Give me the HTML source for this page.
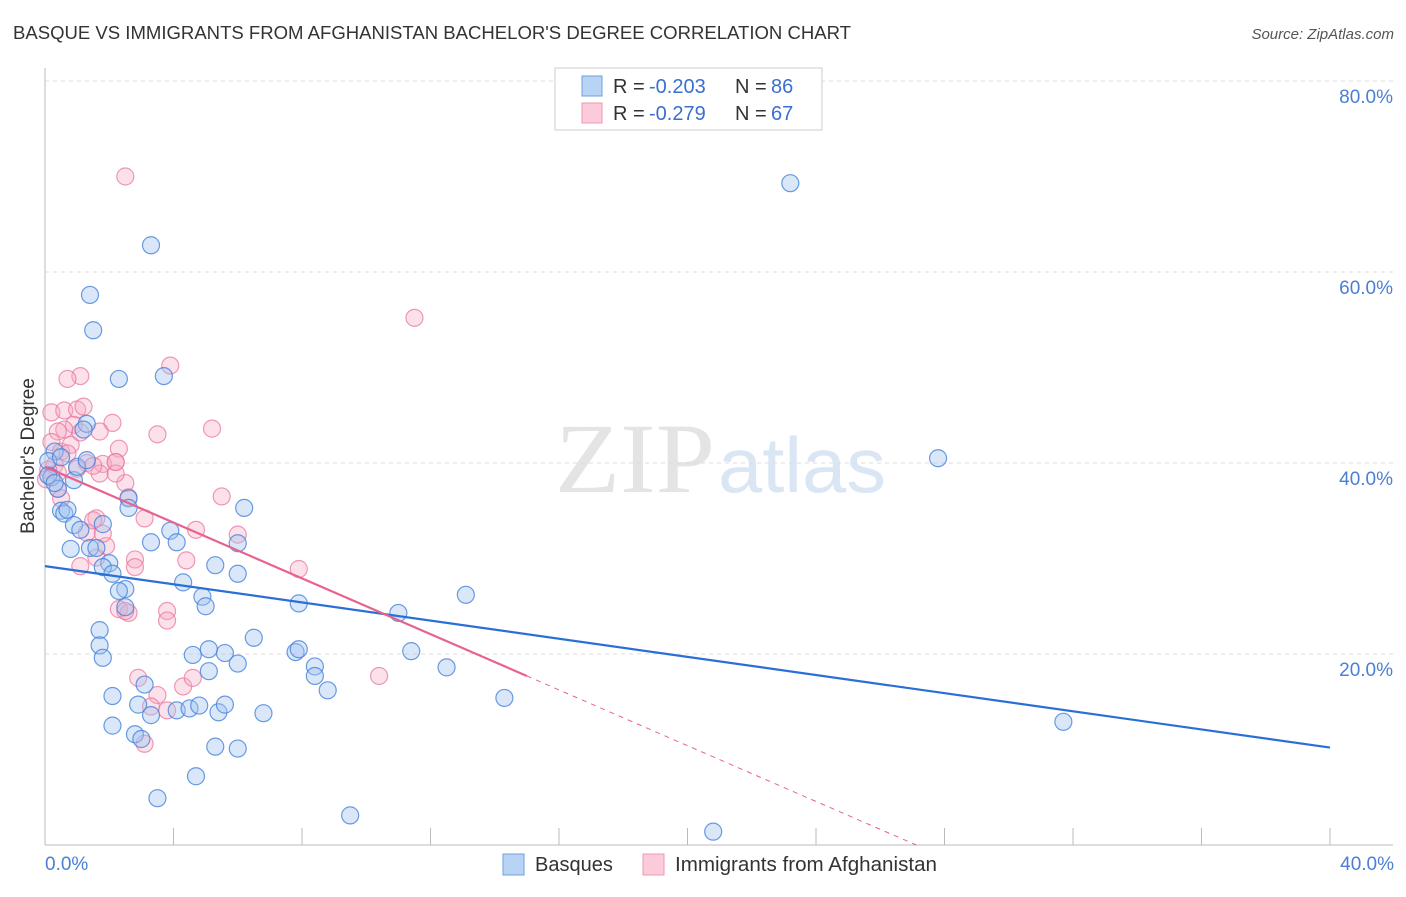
<!DOCTYPE html>
<html><head><meta charset="utf-8"><style>
body{margin:0;background:#fff;font-family:"Liberation Sans",sans-serif;}
</style></head><body>
<svg width="1406" height="892" xmlns="http://www.w3.org/2000/svg" id="c" font-family="Liberation Sans, sans-serif">
<text x="13" y="39" font-size="18" fill="#333" textLength="838" lengthAdjust="spacingAndGlyphs">BASQUE VS IMMIGRANTS FROM AFGHANISTAN BACHELOR'S DEGREE CORRELATION CHART</text>
<text x="1394" y="39" font-size="15" fill="#555" text-anchor="end" font-style="italic">Source: ZipAtlas.com</text>
<text x="555" y="492" font-size="100" fill="#e4e4e4" textLength="160" lengthAdjust="spacingAndGlyphs" font-family="Liberation Serif, serif">ZIP</text>
<text x="718" y="492" font-size="78" fill="#dbe6f5" textLength="168" lengthAdjust="spacingAndGlyphs">atlas</text>
<text transform="translate(34,456) rotate(-90)" font-size="19" fill="#333" text-anchor="middle">Bachelor's Degree</text>
<g id="grid"></g><g id="pts"></g><g id="lines"></g>
<g>
<rect x="555" y="68" width="267" height="62" fill="#fff" stroke="#ccc"/>
<rect x="582" y="76" width="20" height="20" fill="#b9d3f5" stroke="#6f9fe0"/>
<rect x="582" y="103" width="20" height="20" fill="#fbcbd9" stroke="#ec9ab5"/>
<text x="613" y="93" font-size="20" fill="#333">R =</text>
<text x="649" y="93" font-size="20" fill="#3a6fd0">-0.203</text>
<text x="735" y="93" font-size="20" fill="#333">N =</text>
<text x="771" y="93" font-size="20" fill="#3a6fd0">86</text>
<text x="613" y="120" font-size="20" fill="#333">R =</text>
<text x="649" y="120" font-size="20" fill="#3a6fd0">-0.279</text>
<text x="735" y="120" font-size="20" fill="#333">N =</text>
<text x="771" y="120" font-size="20" fill="#3a6fd0">67</text>
</g>
<g>
<rect x="503" y="854" width="21" height="21" fill="#b9d3f5" stroke="#6f9fe0"/>
<text x="535" y="871" font-size="20" fill="#333">Basques</text>
<rect x="643" y="854" width="21" height="21" fill="#fbcbd9" stroke="#ec9ab5"/>
<text x="675" y="871" font-size="20" fill="#333" textLength="262" lengthAdjust="spacingAndGlyphs">Immigrants from Afghanistan</text>
</g>
</svg>
<script>
const xTicks=[0,4,8,12,16,20,24,28,32,36,40];
const yTicks=[20,40,60,80];
const blueX=[23.2,3.3,1.4,1.5,2.3,3.7,27.8,31.7,20.8,9.5,3.5,4.7,1.3,1.2,0.3,0.1,0.2,0.4,0.5,0.6,0.9,1.0,1.3,0.7,0.9,0.8,1.1,1.8,1.4,2.0,1.8,2.1,2.6,2.6,2.5,2.5,2.3,1.6,1.7,1.7,1.8,3.3,3.9,4.1,4.3,4.9,5.0,5.3,6.0,6.0,6.2,5.6,5.1,5.1,4.6,6.0,6.5,7.9,8.4,8.8,8.4,7.8,7.9,11.0,11.4,12.5,13.1,14.3,2.1,2.1,2.8,3.0,2.9,3.3,4.1,4.5,4.8,5.4,5.6,5.3,6.0,6.8,3.1,0.5,0.1,0.3];
const blueY=[69.3,62.8,57.6,53.9,48.8,49.1,40.5,12.9,1.4,3.1,4.9,7.2,44.1,43.5,41.2,40.2,38.5,37.3,35.0,34.7,38.2,39.6,40.3,35.1,33.5,31.0,33.0,33.6,31.1,29.5,29.1,28.4,36.3,35.3,26.8,24.9,26.6,31.1,22.5,20.9,19.6,31.7,32.9,31.7,27.5,26.0,25.0,29.3,31.6,28.4,35.3,20.1,20.5,18.2,19.9,19.0,21.7,25.3,18.7,16.2,17.7,20.2,20.5,24.3,20.3,18.6,26.2,15.4,15.6,12.5,11.6,11.1,14.7,13.6,14.1,14.3,14.6,13.9,14.7,10.3,10.1,13.8,16.8,40.6,38.7,37.9];
const pinkX=[2.5,11.5,3.9,1.1,0.7,0.2,0.6,1.0,1.2,2.1,0.9,1.7,3.5,5.2,0.6,0.4,0.2,0.5,0.8,1.3,1.0,1.8,2.3,2.2,1.7,1.5,0.7,1.1,0.3,0.4,0.1,2.5,2.2,2.2,2.6,5.5,3.1,1.6,1.3,1.9,4.7,6.0,2.8,4.4,2.8,1.1,7.9,2.3,2.6,2.5,3.8,3.8,1.6,10.4,2.9,3.5,4.3,4.6,3.3,3.8,3.1,0.03,0.4,0.5,1.8,1.5];
const pinkY=[70.0,55.2,50.2,49.1,48.8,45.3,45.5,45.6,45.9,44.2,44.0,43.3,43.0,43.6,43.5,43.3,42.2,41.2,41.9,40.0,39.4,39.9,41.5,40.1,38.9,39.7,41.0,43.2,39.8,39.0,39.3,37.9,38.9,40.1,36.4,36.5,34.2,34.2,32.7,31.3,33.0,32.5,29.9,29.8,29.1,29.2,28.9,24.7,24.3,24.5,24.5,23.5,30.1,17.7,17.5,15.7,16.6,17.5,14.5,14.1,10.6,38.3,37.3,36.3,32.6,34.0];
const blueLine=[29.2,10.2];
const pinkLine=[39.6,-1.46,15.0];
const X0=45,X1=1330,Y0=845,Y80=81;
const sx=v=>X0+(v/40)*(X1-X0);
const sy=v=>Y0-(v/80)*(Y0-Y80);
const NS="http://www.w3.org/2000/svg";
function mk(t,a,p){const e=document.createElementNS(NS,t);for(const k in a)e.setAttribute(k,a[k]);p.appendChild(e);return e;}
const g=document.getElementById('grid');
let ax=mk('line',{x1:X0,y1:68,x2:X0,y2:Y0,stroke:'#bbb'},g);


let bx=mk('line',{x1:X0,y1:Y0,x2:1393,y2:Y0,stroke:'#bbb'},g);


yTicks.forEach(v=>{
 const l=mk('line',{x1:X0,y1:sy(v),x2:1393,y2:sy(v),stroke:'#ddd','stroke-dasharray':'4,4'},g);
 
 
 const t=mk('text',{x:1393,y:sy(v)+22,'font-size':19,fill:'#4a7fd4','text-anchor':'end'},g);
 t.textContent=v.toFixed(1)+'%';
 
 
});
xTicks.forEach(v=>{
 const l=mk('line',{x1:sx(v),y1:828,x2:sx(v),y2:Y0,stroke:'#bbb'},g);
 
 
});
[[0,'start',45],[40,'end',1394]].forEach(([v,a,x])=>{
 const t=mk('text',{x:x,y:870,'font-size':19,fill:'#4a7fd4','text-anchor':a},g);
 t.textContent=v.toFixed(1)+'%';
 
 
});
const p=document.getElementById('pts');
pinkX.forEach((x,i)=>{
 const c=mk('circle',{cx:sx(x),cy:sy(pinkY[i]),r:8.5,fill:'rgba(246,170,195,0.35)',stroke:'rgba(232,120,160,0.75)','stroke-width':1.2},p);
 
 
});
blueX.forEach((x,i)=>{
 const c=mk('circle',{cx:sx(x),cy:sy(blueY[i]),r:8.5,fill:'rgba(160,196,240,0.4)',stroke:'rgba(70,130,220,0.8)','stroke-width':1.2},p);
 
 
});
const L=document.getElementById('lines');
let bl=mk('line',{x1:sx(0),y1:sy(blueLine[0]),x2:sx(40),y2:sy(blueLine[1]),stroke:'#2a6fd6','stroke-width':2.2},L);


const pe=pinkLine[2],xz=-pinkLine[0]/pinkLine[1];
let pl=mk('line',{x1:sx(0),y1:sy(pinkLine[0]),x2:sx(pe),y2:sy(pinkLine[0]+pinkLine[1]*pe),stroke:'#e8628e','stroke-width':2.2},L);


let pd=mk('line',{x1:sx(pe),y1:sy(pinkLine[0]+pinkLine[1]*pe),x2:sx(xz),y2:sy(0),stroke:'#e8628e','stroke-width':1,'stroke-dasharray':'5,5'},L);


</script>
</body></html>
